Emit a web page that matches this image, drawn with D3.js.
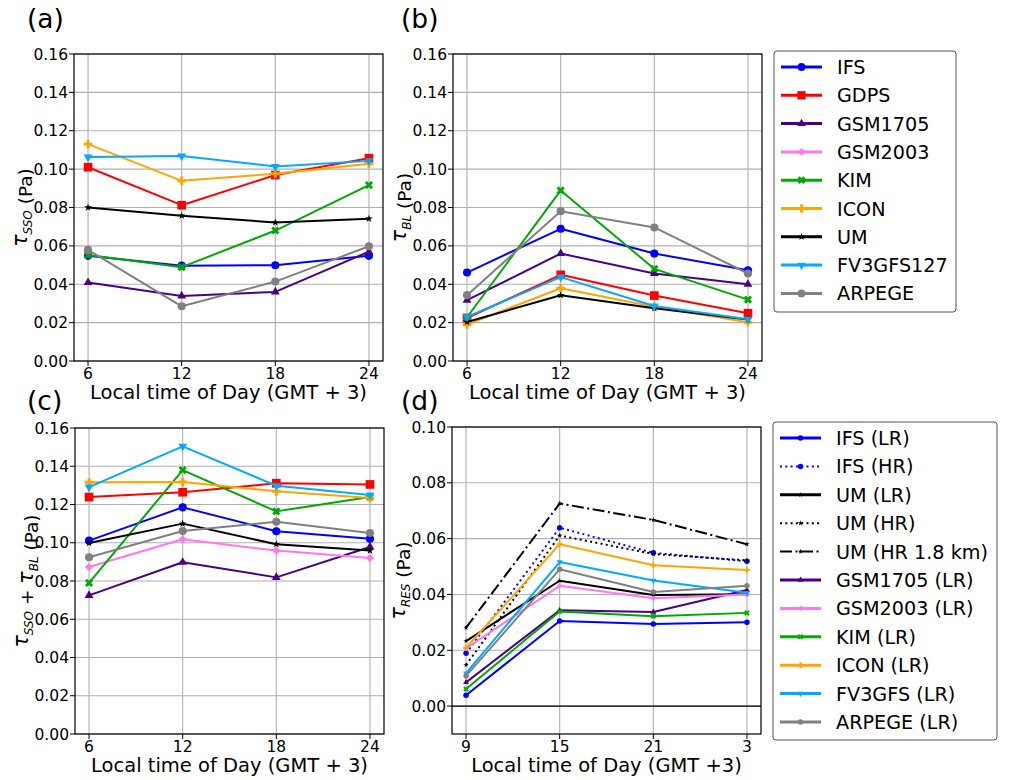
<!DOCTYPE html>
<html>
<head>
<meta charset="utf-8">
<script src="https://cdn.jsdelivr.net/npm/d3@7"></script>
<style>
  body { margin: 0; background: #fff; }
  text { font-family: 'DejaVu Sans', sans-serif; fill: #000; }
</style>
</head>
<body>
<div id="chart"></div>
<script>
// ---- data ----
const hours = [6, 12, 18, 24]
const hoursRes = ['9', '15', '21', '3']
const models = ['IFS', 'GDPS', 'GSM1705', 'GSM2003', 'KIM', 'ICON', 'UM', 'FV3GFS127', 'ARPEGE']
const tauSSO = [
  [0.0548, 0.0497, 0.0499, 0.0548],
  [0.101, 0.0812, 0.0969, 0.1057],
  [0.0409, 0.0339, 0.036, 0.057],
  null,
  [0.0553, 0.0489, 0.068, 0.0917],
  [0.113, 0.0939, 0.0976, 0.1028],
  [0.080, 0.0757, 0.0722, 0.0741],
  [0.1063, 0.1068, 0.1014, 0.1043],
  [0.0579, 0.0285, 0.0414, 0.0598]
]
const tauBL = [
  [0.0461, 0.0689, 0.056, 0.0473],
  [0.0224, 0.0449, 0.0341, 0.0249],
  [0.0317, 0.056, 0.0456, 0.040],
  null,
  [0.0228, 0.0889, 0.048, 0.032],
  [0.019, 0.0379, 0.0283, 0.0202],
  [0.0203, 0.0343, 0.0275, 0.0216],
  [0.023, 0.0437, 0.0287, 0.0217],
  [0.0343, 0.0781, 0.0696, 0.0456]
]
const tauSum = [
  [0.1011, 0.1185, 0.106, 0.1021],
  [0.1239, 0.1264, 0.1311, 0.1305],
  [0.0725, 0.0898, 0.0819, 0.0978],
  [0.0873, 0.1018, 0.0959, 0.092],
  [0.079, 0.138, 0.1164, 0.1239],
  [0.1316, 0.1318, 0.1269, 0.1234],
  [0.0999, 0.110, 0.0992, 0.0959],
  [0.1291, 0.1504, 0.1298, 0.125],
  [0.0924, 0.1061, 0.111, 0.1051]
]
const resModels = ['IFS (LR)', 'IFS (HR)', 'UM (LR)', 'UM (HR)', 'UM (HR 1.8 km)', 'GSM1705 (LR)',
  'GSM2003 (LR)', 'KIM (LR)', 'ICON (LR)', 'FV3GFS (LR)', 'ARPEGE (LR)']
const tauRES = [
  [0.0039, 0.0305, 0.0294, 0.030],
  [0.0189, 0.0639, 0.0549, 0.0519],
  [0.0233, 0.0449, 0.0398, 0.0401],
  [0.0147, 0.0611, 0.0545, 0.0522],
  [0.0281, 0.0726, 0.0667, 0.058],
  [0.0085, 0.0343, 0.0337, 0.0416],
  [0.0207, 0.0431, 0.0386, 0.040],
  [0.0061, 0.0339, 0.0322, 0.0334],
  [0.0209, 0.058, 0.0505, 0.0488],
  [0.0118, 0.0516, 0.045, 0.0406],
  [0.0108, 0.049, 0.0409, 0.0431]
]
const yTicksTau = [0, 0.02, 0.04, 0.06, 0.08, 0.10, 0.12, 0.14, 0.16]
const yTicksRes = [0, 0.02, 0.04, 0.06, 0.08, 0.10]

// ---- styles ----
const modelStyle = {
  IFS: { color: '#0000ff', marker: 'o' },
  GDPS: { color: '#ff0000', marker: 's' },
  GSM1705: { color: '#4b0082', marker: '^' },
  GSM2003: { color: '#ff77ee', marker: 'D' },
  KIM: { color: '#00aa00', marker: 'X' },
  ICON: { color: '#ffa500', marker: 'P' },
  UM: { color: '#000000', marker: '*' },
  FV3GFS127: { color: '#00aaff', marker: 'v' },
  ARPEGE: { color: '#808080', marker: 'o' }
}
const resStyle = [
  { color: '#0000ff', marker: 'o', dash: null },
  { color: '#0000ff', marker: 'o', dash: '2,3.3' },
  { color: '#000000', marker: '*', dash: null },
  { color: '#000000', marker: '*', dash: '2,3.3' },
  { color: '#000000', marker: '*', dash: '12,3.5,2,3.5' },
  { color: '#4b0082', marker: '^', dash: null },
  { color: '#ff77ee', marker: 'D', dash: null },
  { color: '#00aa00', marker: 'X', dash: null },
  { color: '#ffa500', marker: 'P', dash: null },
  { color: '#00aaff', marker: 'v', dash: null },
  { color: '#808080', marker: 'o', dash: null }
]

const width = 1013
const height = 780

const svg = d3
  .select('#chart')
  .append('svg')
  .attr('width', width)
  .attr('height', height)

// matplotlib-like marker shapes built from d3 symbols
function markerPath(type, size) {
  const base = {
    o: [d3.symbolCircle, 1, 0],
    s: [d3.symbolSquare, 1.45, 0],
    '^': [d3.symbolTriangle, 0.65, 0],
    v: [d3.symbolTriangle, 0.65, 180],
    D: [d3.symbolSquare, 0.65, 45],
    X: [d3.symbolCross, 0.8, 45],
    P: [d3.symbolCross, 0.8, 0],
    '*': [d3.symbolStar, 0.35, 0]
  }[type]
  return { d: d3.symbol().type(base[0]).size(size * base[1])(), rot: base[2] }
}

function drawMarker(g, type, size, color, x, y) {
  const m = markerPath(type, size)
  g.append('path')
    .attr('d', m.d)
    .attr('fill', color)
    .attr('stroke', 'none')
    .attr('transform', `translate(${x},${y}) rotate(${m.rot})`)
}

function drawPanel(opts) {
  const { left, right, top, bottom } = opts.box
  const g = svg.append('g')
  const xScale = d3.scaleLinear().domain(opts.xDomain).range([left, right])
  const yScale = d3.scaleLinear().domain(opts.yDomain).range([bottom, top])

  // grid
  g.selectAll('.vgrid')
    .data(opts.xTicks)
    .enter()
    .append('line')
    .attr('x1', d => xScale(d))
    .attr('x2', d => xScale(d))
    .attr('y1', top)
    .attr('y2', bottom)
    .attr('stroke', '#b0b0b0')
    .attr('stroke-width', 1.1)
  g.selectAll('.hgrid')
    .data(opts.yTicks)
    .enter()
    .append('line')
    .attr('x1', left)
    .attr('x2', right)
    .attr('y1', d => yScale(d))
    .attr('y2', d => yScale(d))
    .attr('stroke', '#b0b0b0')
    .attr('stroke-width', 1.1)

  if (opts.zeroLine) {
    g.append('line')
      .attr('x1', left)
      .attr('x2', right)
      .attr('y1', yScale(0))
      .attr('y2', yScale(0))
      .attr('stroke', '#000')
      .attr('stroke-width', 1.1)
  }

  // series
  const line = d3
    .line()
    .x((d, i) => xScale(opts.xValues[i]))
    .y(d => yScale(d))
  opts.series.forEach(s => {
    if (!s.values) return
    g.append('path')
      .attr('d', line(s.values))
      .attr('fill', 'none')
      .attr('stroke', s.color)
      .attr('stroke-width', opts.lineWidth)
      .attr('stroke-dasharray', s.dash || null)
      .attr('stroke-linejoin', 'round')
    s.values.forEach((v, i) => {
      drawMarker(g, s.marker, opts.markerSize, s.color, xScale(opts.xValues[i]), yScale(v))
    })
  })

  // frame
  g.append('rect')
    .attr('x', left)
    .attr('y', top)
    .attr('width', right - left)
    .attr('height', bottom - top)
    .attr('fill', 'none')
    .attr('stroke', '#000')
    .attr('stroke-width', 1.2)

  // ticks
  opts.xTicks.forEach((t, i) => {
    g.append('line')
      .attr('x1', xScale(t))
      .attr('x2', xScale(t))
      .attr('y1', bottom)
      .attr('y2', bottom + 5)
      .attr('stroke', '#000')
    g.append('text')
      .attr('x', xScale(t))
      .attr('y', bottom + 18)
      .attr('text-anchor', 'middle')
      .attr('font-size', 15.5)
      .text(opts.xTickLabels[i])
  })
  opts.yTicks.forEach(t => {
    g.append('line')
      .attr('x1', left - 5)
      .attr('x2', left)
      .attr('y1', yScale(t))
      .attr('y2', yScale(t))
      .attr('stroke', '#000')
    g.append('text')
      .attr('x', left - 6)
      .attr('y', yScale(t) + 5.5)
      .attr('text-anchor', 'end')
      .attr('font-size', 15.5)
      .text(t.toFixed(2))
  })

  // x label
  g.append('text')
    .attr('x', (left + right) / 2)
    .attr('y', bottom + 38)
    .attr('text-anchor', 'middle')
    .attr('font-size', 19.5)
    .text(opts.xLabel)

  // y label (tau with italic subscripts)
  const yl = g.append('text')
    .attr('transform', `translate(${left - 47},${(top + bottom) / 2}) rotate(-90)`)
    .attr('text-anchor', 'middle')
    .attr('font-size', 18.5)
  opts.yLabel.forEach(part => {
    if (part.sub) {
      yl.append('tspan')
        .attr('font-style', 'italic')
        .attr('font-size', 12)
        .attr('dy', 5)
        .text(part.sub)
      yl.append('tspan').attr('dy', -5).text('')
    } else if (part.tau) {
      yl.append('tspan').attr('font-style', 'italic').attr('font-size', 20.5).text('τ')
    } else {
      yl.append('tspan').text(part.text)
    }
  })

  // panel letter
  g.append('text')
    .attr('x', opts.letterX)
    .attr('y', opts.letterY)
    .attr('font-size', 26.5)
    .text(opts.letter)
}

function modelSeries(values) {
  return models.map((m, i) => ({
    name: m,
    values: values[i],
    color: modelStyle[m].color,
    marker: modelStyle[m].marker
  }))
}

const tauPanel = {
  xDomain: [5.1, 24.9],
  yDomain: [0, 0.16],
  xTicks: hours,
  xTickLabels: hours.map(String),
  xValues: hours,
  yTicks: yTicksTau,
  xLabel: 'Local time of Day (GMT + 3)',
  lineWidth: 2,
  markerSize: 52
}

drawPanel(Object.assign({}, tauPanel, {
  box: { left: 74, right: 383, top: 54, bottom: 361 },
  series: modelSeries(tauSSO),
  yLabel: [{ tau: true }, { sub: 'SSO' }, { text: ' (Pa)' }],
  letter: '(a)', letterX: 27, letterY: 28
}))

drawPanel(Object.assign({}, tauPanel, {
  box: { left: 453, right: 762, top: 54, bottom: 361 },
  series: modelSeries(tauBL),
  yLabel: [{ tau: true }, { sub: 'BL' }, { text: ' (Pa)' }],
  letter: '(b)', letterX: 401, letterY: 28
}))

drawPanel(Object.assign({}, tauPanel, {
  box: { left: 75, right: 384, top: 428, bottom: 734 },
  series: modelSeries(tauSum),
  yLabel: [{ tau: true }, { sub: 'SSO' }, { text: ' + ' }, { tau: true }, { sub: 'BL' }, { text: ' (Pa)' }],
  letter: '(c)', letterX: 27, letterY: 410
}))

drawPanel({
  box: { left: 452, right: 761, top: 427, bottom: 734 },
  xDomain: [-0.15, 3.15],
  yDomain: [-0.01, 0.10],
  xTicks: [0, 1, 2, 3],
  xTickLabels: hoursRes,
  xValues: [0, 1, 2, 3],
  yTicks: yTicksRes,
  zeroLine: true,
  xLabel: 'Local time of Day (GMT +3)',
  lineWidth: 2,
  markerSize: 24,
  series: resModels.map((m, i) => Object.assign({ name: m, values: tauRES[i] }, resStyle[i])),
  yLabel: [{ tau: true }, { sub: 'RES' }, { text: ' (Pa)' }],
  letter: '(d)', letterX: 401, letterY: 410
})

// ---- legends ----
function drawLegend(x, y, w, h, items, step, markerSize) {
  const g = svg.append('g')
  g.append('rect')
    .attr('x', x)
    .attr('y', y)
    .attr('width', w)
    .attr('height', h)
    .attr('rx', 3)
    .attr('fill', '#fff')
    .attr('stroke', '#555')
    .attr('stroke-width', 1)
  items.forEach((it, i) => {
    const cy = y + 16 + i * step
    g.append('line')
      .attr('x1', x + 7)
      .attr('x2', x + 48)
      .attr('y1', cy)
      .attr('y2', cy)
      .attr('stroke', it.color)
      .attr('stroke-width', it.dash ? 2 : 3)
      .attr('stroke-dasharray', it.dash || null)
    drawMarker(g, it.marker, markerSize, it.color, x + 27.5, cy)
    g.append('text')
      .attr('x', x + 63)
      .attr('y', cy + 7)
      .attr('font-size', 19.2)
      .text(it.name)
  })
}

drawLegend(774, 51, 182, 261,
  models.map(m => Object.assign({ name: m }, modelStyle[m])), 28.3, 48)
drawLegend(773, 422, 224, 318,
  resModels.map((m, i) => Object.assign({ name: m }, resStyle[i])), 28.4, 24)
</script>
</body>
</html>
